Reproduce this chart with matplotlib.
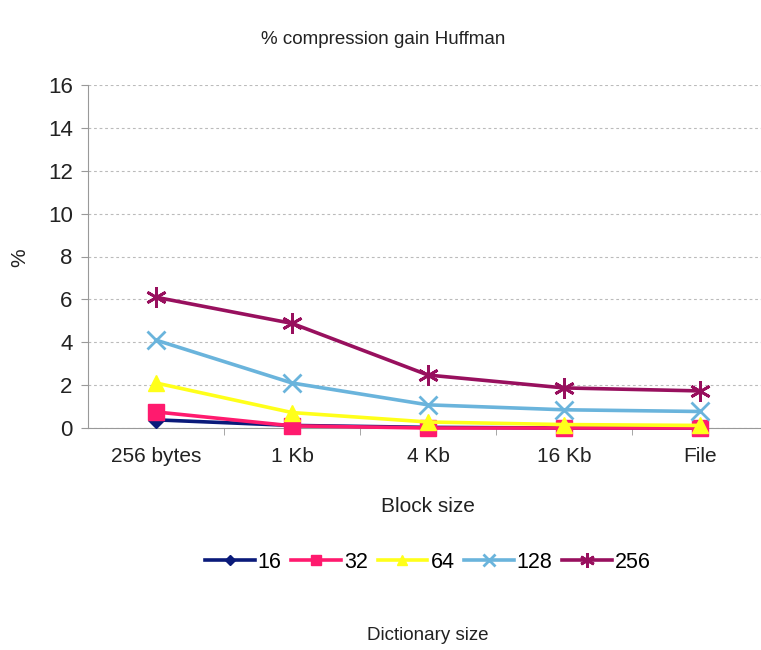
import matplotlib
matplotlib.use("Agg")
import matplotlib.pyplot as plt
from matplotlib.ticker import FixedLocator

plt.rcParams["font.family"] = ["Liberation Sans", "DejaVu Sans"]

categories = ["256 bytes", "1 Kb", "4 Kb", "16 Kb", "File"]
series_names = ["16", "32", "64", "128", "256"]
s16 = [0.38, 0.12, 0.03, 0.0, 0.0]
s32 = [0.75, 0.1, 0.0, 0.0, 0.0]
s64 = [2.1, 0.72, 0.28, 0.16, 0.12]
s128 = [4.1, 2.1, 1.08, 0.85, 0.77]
s256 = [6.1, 4.88, 2.47, 1.87, 1.73]

colors = ["#0a1a7a", "#ff1a6e", "#ffff1a", "#6ab4dc", "#98105e"]
markers = ["D", "s", "^", "x", (6, 2, 0)]
msizes = [8, 11, 11, 13, 15]

fig = plt.figure(figsize=(7.61, 6.5), dpi=100)
W, H = 761, 650
ax = fig.add_axes([88 / W, 1 - 428 / H, (768 - 88) / W, (428 - 85) / H])

x = list(range(len(categories)))
for vals, name, c, m, ms in zip([s16, s32, s64, s128, s256], series_names, colors, markers, msizes):
    ax.plot(x, vals, color=c, lw=2.6, marker=m, ms=ms, mew=2.0 if m == "x" or isinstance(m, tuple) else 1,
            mec=c, mfc=c, label=name, clip_on=False, zorder=3)

ax.set_xlim(-0.5, 4.5)
ax.set_ylim(0, 16)
ax.set_yticks(range(0, 17, 2))
ax.set_xticks(x)
ax.set_xticklabels(categories, fontsize=15)
ax.xaxis.set_minor_locator(FixedLocator([0.5, 1.5, 2.5, 3.5]))
ax.tick_params(axis="x", which="major", length=0, pad=14)
ax.tick_params(axis="x", which="minor", length=5, direction="out", color="#999999")
ax.tick_params(axis="y", labelsize=16, length=5, direction="out", color="#999999", pad=6)
for lbl in ax.get_yticklabels() + ax.get_xticklabels():
    lbl.set_color("#222222")

ax.grid(axis="y", linestyle=(0, (2.5, 2.5)), color="#bbbbbb", lw=0.8)
ax.set_axisbelow(True)
for s in ["top", "right"]:
    ax.spines[s].set_visible(False)
ax.spines["left"].set_color("#999999")
ax.spines["bottom"].set_color("#999999")

fig.text(20 / W, 1 - 258 / H, "%", fontsize=15, rotation=90, ha="center", va="center", color="#222222")
fig.text(383 / W, 1 - 40 / H, "% compression gain Huffman", fontsize=13.5, ha="center", va="center", color="#222222")
fig.text(428 / W, 1 - 507 / H, "Block size", fontsize=15, ha="center", va="center", color="#222222")
fig.text(428 / W, 1 - 635 / H, "Dictionary size", fontsize=13.5, ha="center", va="center", color="#222222")

fig.legend(loc="center", bbox_to_anchor=(428 / W, 1 - 562 / H), ncol=5, frameon=False,
           fontsize=15.5, handlelength=2.3, handletextpad=0.15, columnspacing=0.45, markerscale=0.7)

fig.savefig("out.png", dpi=100)
